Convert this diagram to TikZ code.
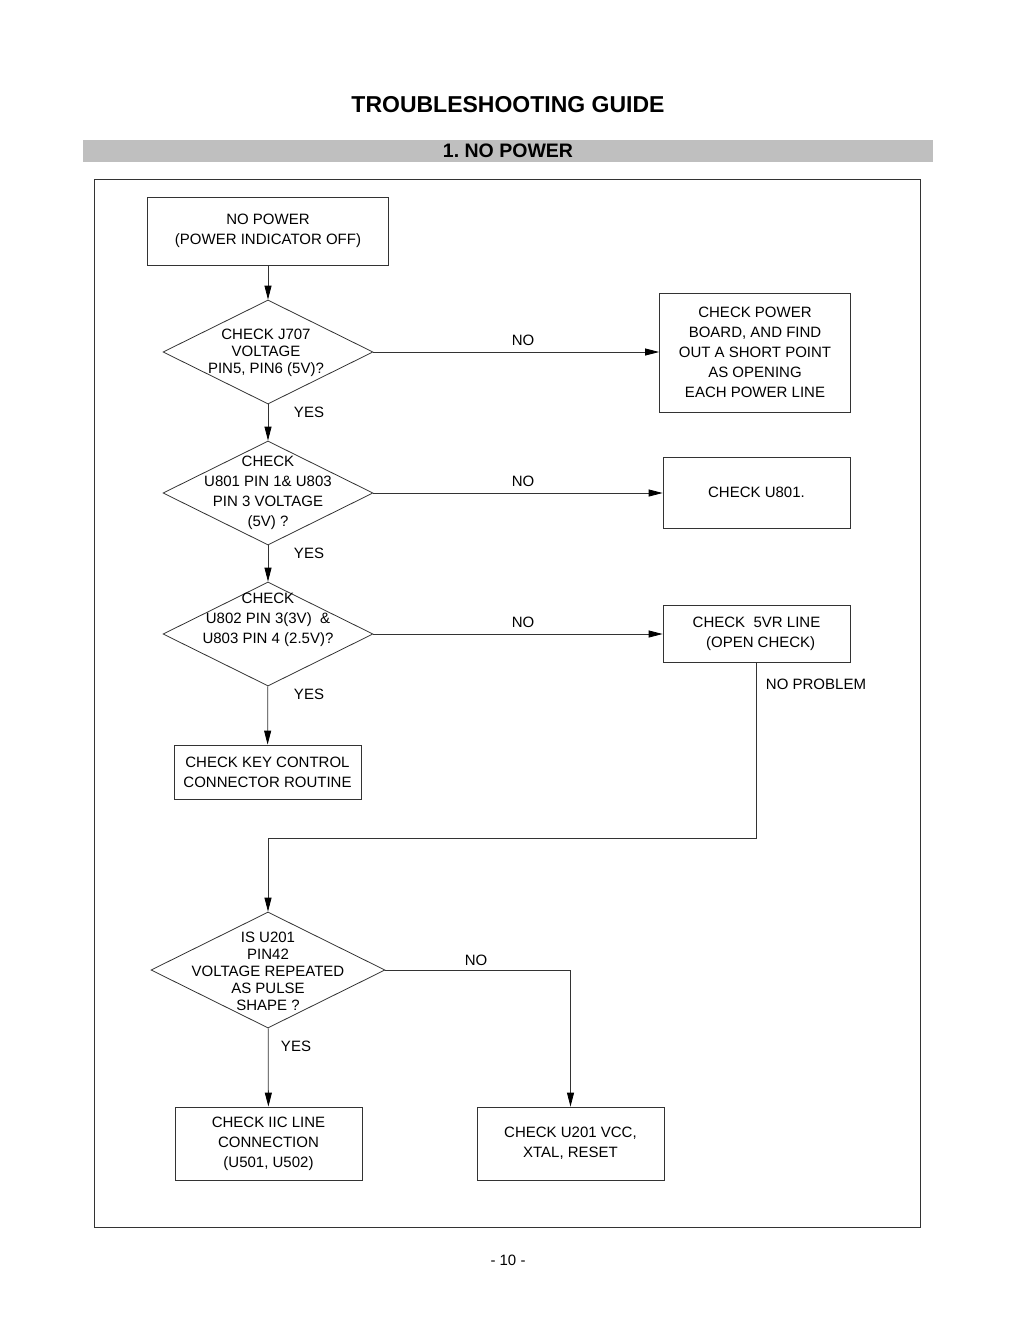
\documentclass[tikz,border=0pt]{standalone}
\usepackage{fontspec}
\setmainfont{Liberation Sans}
\usepackage{tikz}
\usetikzlibrary{shapes.geometric,arrows.meta}
\newcommand{\colx}{268}
\newcommand{\boxfont}{\fontsize{15}{20}\selectfont}
\newcommand{\diafont}{\fontsize{15}{17}\selectfont}
\frenchspacing

\begin{document}
\begin{tikzpicture}[x=1pt,y=-1pt,
  line width=0.8pt,
  stepbox/.style={draw=black!80,rectangle,inner sep=0pt,align=center,font=\boxfont},
  decision/.style={draw=black!80,diamond,inner sep=0pt,minimum width=210pt,minimum height=104pt},
  dtext/.style={align=center,inner sep=0pt,font=\diafont},
  answer/.style={font=\boxfont,inner sep=0pt},
  arr/.style={draw=black!80,-{Triangle[length=14pt,width=7pt,fill=black,color=black]}}]

\useasboundingbox (0,0) rectangle (1020,1320);

\node[font=\fontsize{23}{28}\selectfont\bfseries] (title) at (508,105) {TROUBLESHOOTING GUIDE};
\fill[black!25] (83,140) rectangle (933,162);
\node[font=\fontsize{19.5}{24}\selectfont\bfseries] (section) at (508,151) {1. NO POWER};
\draw[black!80] (94,179) rectangle (920,1227);

\node[stepbox,minimum width=241pt,minimum height=68pt] (start) at (\colx,231) {NO POWER\\(POWER INDICATOR OFF)};

\node[decision] (d1) at (\colx,352) {};
\node[dtext] (t1) at (266,353) {CHECK J707\\VOLTAGE\\PIN5, PIN6 (5V)?};
\node[stepbox,minimum width=191pt,minimum height=119pt] (power) at (755,352.5) {CHECK POWER\\BOARD, AND FIND\\OUT A SHORT POINT\\AS OPENING\\EACH POWER LINE};

\node[decision] (d2) at (\colx,493) {};
\node[dtext,font=\boxfont] (t2) at (\colx,493) {CHECK\\U801 PIN 1\& U803\\PIN 3 VOLTAGE\\(5V) ?};
\node[stepbox,minimum width=187pt,minimum height=71pt] (u801) at (756.5,492.5) {CHECK U801.};

\node[decision] (d3) at (\colx,634) {};
\node[dtext,font=\boxfont] (t3) at (\colx,620) {CHECK\\U802 PIN 3(3V)\ \ \&\\U803 PIN 4 (2.5V)?};
\node[stepbox,minimum width=187pt,minimum height=57pt] (line5v) at (756.5,633.5) {CHECK\ \ 5VR LINE\\\ \ (OPEN CHECK)};

\node[stepbox,minimum width=187pt,minimum height=54pt] (keys) at (267.5,772) {CHECK KEY CONTROL\\CONNECTOR ROUTINE};

\node[decision,minimum width=234pt,minimum height=116pt] (d4) at (\colx,970) {};
\node[dtext] (t4) at (\colx,971) {IS U201\\PIN42\\VOLTAGE REPEATED\\AS PULSE\\SHAPE ?};

\node[stepbox,minimum width=187pt,minimum height=73pt] (iic) at (268.5,1143.5) {CHECK IIC LINE\\CONNECTION\\(U501, U502)};
\node[stepbox,minimum width=187pt,minimum height=73pt] (vcc) at (570.5,1143.5) {CHECK U201 VCC,\\XTAL, RESET};

\coordinate (bend) at (\colx,838);

\draw[arr] (start) -- (d1);
\draw[arr] (d1.east) -- (d1.east -| power.west);
\draw[arr] (d1) -- (d2);
\draw[arr] (d2.east) -- (d2.east -| u801.west);
\draw[arr] (d2) -- (d3);
\draw[arr] (d3.east) -- (d3.east -| line5v.west);
\draw[arr] (d3) -- (keys);
\draw[arr] (line5v.south) |- (bend) -- (d4.north);
\draw[arr] (d4) -- (iic);
\draw[arr] (d4.east) -| (vcc.north);

\node[answer] (no1) at (523,340) {NO};
\node[answer] (yes1) at (309,412) {YES};
\node[answer] (no2) at (523,481) {NO};
\node[answer] (yes2) at (309,553) {YES};
\node[answer] (no3) at (523,622) {NO};
\node[answer] (yes3) at (309,694) {YES};
\node[answer] (ok5v) at (816,684) {NO PROBLEM};
\node[answer] (no4) at (476,960) {NO};
\node[answer] (yes4) at (296,1046) {YES};

\node[answer] (page) at (508,1260) {- 10 -};
\end{tikzpicture}
\end{document}
